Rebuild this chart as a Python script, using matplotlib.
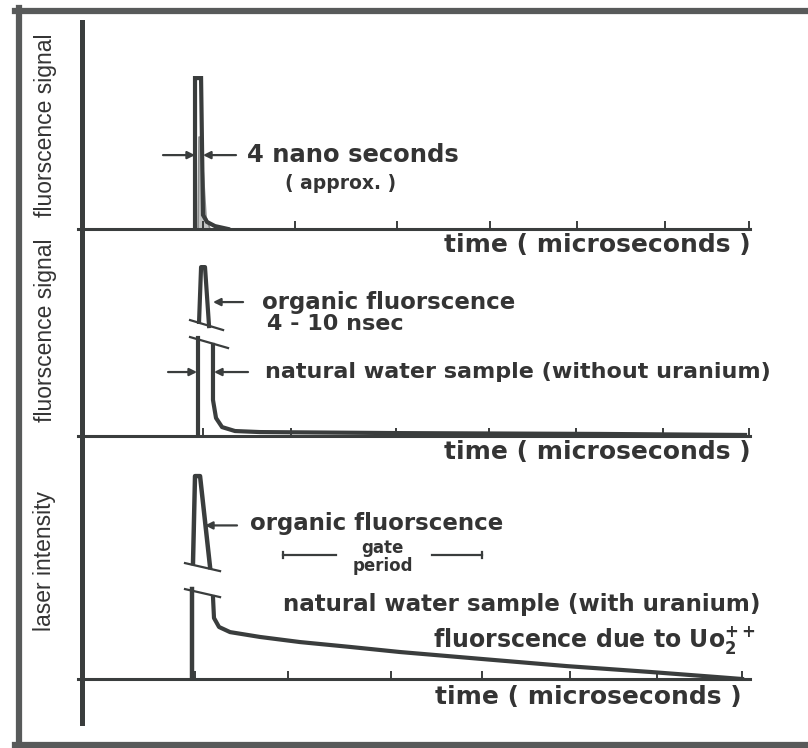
import matplotlib.pyplot as plt
from matplotlib.lines import Line2D

INK = '#3a3d3d'
TXT = '#343434'
W, H = 808, 748

# time axis in microseconds, 0 = laser pulse
ticks_top = [0.07, 1.07, 2.18, 3.20, 4.14, 5.10, 6.02]
ticks_mid = [0.07, 1.03, 2.17, 3.18, 4.13, 5.08, 6.02]
ticks_bot = [-0.02, 0.99, 2.12, 3.11, 4.07, 5.02, 5.94]

# panel 1 - laser pulse (outer) and the 4 ns fluorescence under it
laser_t = [-0.022, -0.022, 0.044, 0.065, 0.109, 0.196, 0.338]
laser_y = [0, 0.729, 0.729, 0.068, 0.034, 0.014, 0]
fluor_t = [0.011, 0.022, 0.044, 0.098, 0.142]
fluor_y = [0, 0.444, 0.444, 0.058, 0]

# panel 2 - natural water without uranium (peak above an axis break)
org2_t = [0.022, 0.044, 0.087, 0.131]
org2_y = [0.551, 0.816, 0.816, 0.531]
rise2_t = [0.011, 0.011]
rise2_y = [0, 0.473]
decay2_t = [0.174, 0.174, 0.207, 0.273, 0.414, 0.687, 2.214, 4.395, 5.976]
decay2_y = [0.440, 0.174, 0.087, 0.043, 0.024, 0.019, 0.014, 0.010, 0.005]
breaks2 = [(-0.076, 0.560, 0.284, 0.512), (-0.076, 0.478, 0.338, 0.425)]

# panel 3 - natural water with uranium
org3_t = [-0.044, -0.022, 0.033, 0.142]
org3_y = [0.477, 0.835, 0.835, 0.461]
rise3_t = [-0.055, -0.055]
rise3_y = [0, 0.370]
decay3_t = [0.174, 0.185, 0.240, 0.360, 0.687, 1.123, 1.668, 2.214, 3.119,
            4.035, 4.940, 5.671, 5.943]
decay3_y = [0.337, 0.251, 0.214, 0.193, 0.173, 0.152, 0.132, 0.111, 0.082,
            0.053, 0.029, 0.008, 0.0]
breaks3 = [(-0.131, 0.477, 0.251, 0.444), (-0.131, 0.370, 0.251, 0.337)]
gate_start, gate_end = 0.94, 3.11

fig = plt.figure(figsize=(W / 100, H / 100), dpi=100)


def panel(top, bottom, ticks, label_x):
    ax = fig.add_axes([78 / W, 1 - bottom / H, (750 - 78) / W, (bottom - top) / H])
    ax.set_xlim(-1.298, 6.03)
    ax.set_ylim(0, 1)
    for s in ['top', 'right', 'left']:
        ax.spines[s].set_visible(False)
    ax.spines['bottom'].set_linewidth(2.2)
    ax.spines['bottom'].set_color(INK)
    ax.set_xticks(ticks)
    ax.set_yticks([])
    ax.tick_params(axis='x', direction='in', length=6, width=1.4, color=INK,
                   labelbottom=False)
    ax.patch.set_alpha(0)
    ax.text(label_x, -0.075, 'time ( microseconds )', ha='center', va='center',
            fontsize=18, fontweight='bold', color=TXT)
    return ax


def arrow(ax, head, tail):
    ax.annotate('', xy=head, xytext=tail,
                arrowprops=dict(arrowstyle='-|>', color=INK, lw=1.6,
                                mutation_scale=11, shrinkA=0, shrinkB=0))


def label(ax, x, y, s, size=16):
    ax.text(x, y, s, ha='left', va='center', fontsize=size,
            fontweight='bold', color=TXT)


ax1 = panel(22, 229, ticks_top, 4.37)
ax2 = panel(229, 436, ticks_mid, 4.37)
ax3 = panel(436, 679, ticks_bot, 4.27)

# panel 1
ax1.fill(fluor_t, fluor_y, color='#c4c6c6', lw=0)
ax1.plot(fluor_t, fluor_y, color='#8a8c8c', lw=1.2)
ax1.plot(laser_t, laser_y, color=INK, lw=3, solid_joinstyle='miter')
arrow(ax1, (-0.022, 0.357), (-0.371, 0.357))
arrow(ax1, (0.065, 0.357), (0.425, 0.357))
label(ax1, 0.545, 0.357, '4 nano seconds', 17.5)
label(ax1, 0.96, 0.222, '( approx. )', 13.5)

# panel 2
ax2.plot(org2_t, org2_y, color=INK, lw=3)
ax2.plot(rise2_t, rise2_y, color=INK, lw=3)
ax2.plot(decay2_t, decay2_y, color=INK, lw=3)
for x0, y0, x1, y1 in breaks2:
    ax2.plot([x0, x1], [y0, y1], color=INK, lw=1.6)
arrow(ax2, (0.174, 0.647), (0.502, 0.647))
label(ax2, 0.709, 0.647, 'organic fluorscence', 16.5)
label(ax2, 0.763, 0.541, '4 - 10 nsec')
arrow(ax2, (0.0, 0.309), (-0.316, 0.309))
arrow(ax2, (0.185, 0.309), (0.556, 0.309))
label(ax2, 0.742, 0.309, 'natural water sample (without uranium)')

# panel 3
ax3.plot(org3_t, org3_y, color=INK, lw=3.2)
ax3.plot(rise3_t, rise3_y, color=INK, lw=3.2)
ax3.plot(decay3_t, decay3_y, color=INK, lw=3)
for x0, y0, x1, y1 in breaks3:
    ax3.plot([x0, x1], [y0, y1], color=INK, lw=1.6)
arrow(ax3, (0.087, 0.632), (0.436, 0.632))
label(ax3, 0.578, 0.638, 'organic fluorscence', 16.5)
gate_mid = (gate_start + gate_end) / 2
gate_y = 0.510
ax3.plot([gate_start, gate_start + 0.57], [gate_y, gate_y], color=INK, lw=1.6)
ax3.plot([gate_end - 0.55, gate_end], [gate_y, gate_y], color=INK, lw=1.6)
ax3.plot([gate_start, gate_start], [gate_y - 0.014, gate_y + 0.014], color=INK, lw=1.6)
ax3.plot([gate_end, gate_end], [gate_y - 0.014, gate_y + 0.014], color=INK, lw=1.6)
ax3.text(gate_mid, 0.540, 'gate', ha='center', va='center', fontsize=12,
         fontweight='bold', color=TXT)
ax3.text(gate_mid, 0.463, 'period', ha='center', va='center', fontsize=12,
         fontweight='bold', color=TXT)
label(ax3, 0.938, 0.305, 'natural water sample (with uranium)', 16.6)
label(ax3, 2.574, 0.160, r'fluorscence due to Uo$_\mathbf{2}^\mathbf{++}$', 17)

# y labels
side = dict(rotation=90, ha='center', va='center', fontsize=16.5, color=TXT,
            family='Liberation Sans')
fig.text(46 / W, 1 - 125 / H, 'fluorscence signal', **side)
fig.text(46 / W, 1 - 330 / H, 'fluorscence signal', **side)
fig.text(44 / W, 1 - 561 / H, 'laser intensity', **side)

# vertical axis and page frame
fig.add_artist(Line2D([82 / W, 82 / W], [1 - 22 / H, 1 - 723 / H], lw=3.6, color=INK))
frame = dict(color='#585a5a', lw=4.5)
fig.add_artist(Line2D([15 / W, 1], [1 - 11 / H, 1 - 11 / H], **frame))
fig.add_artist(Line2D([19 / W, 19 / W], [1 - 8 / H, 0], **frame))
fig.add_artist(Line2D([15 / W, 1], [1 - 745 / H, 1 - 745 / H], **frame))

fig.savefig('out.png', dpi=100)
